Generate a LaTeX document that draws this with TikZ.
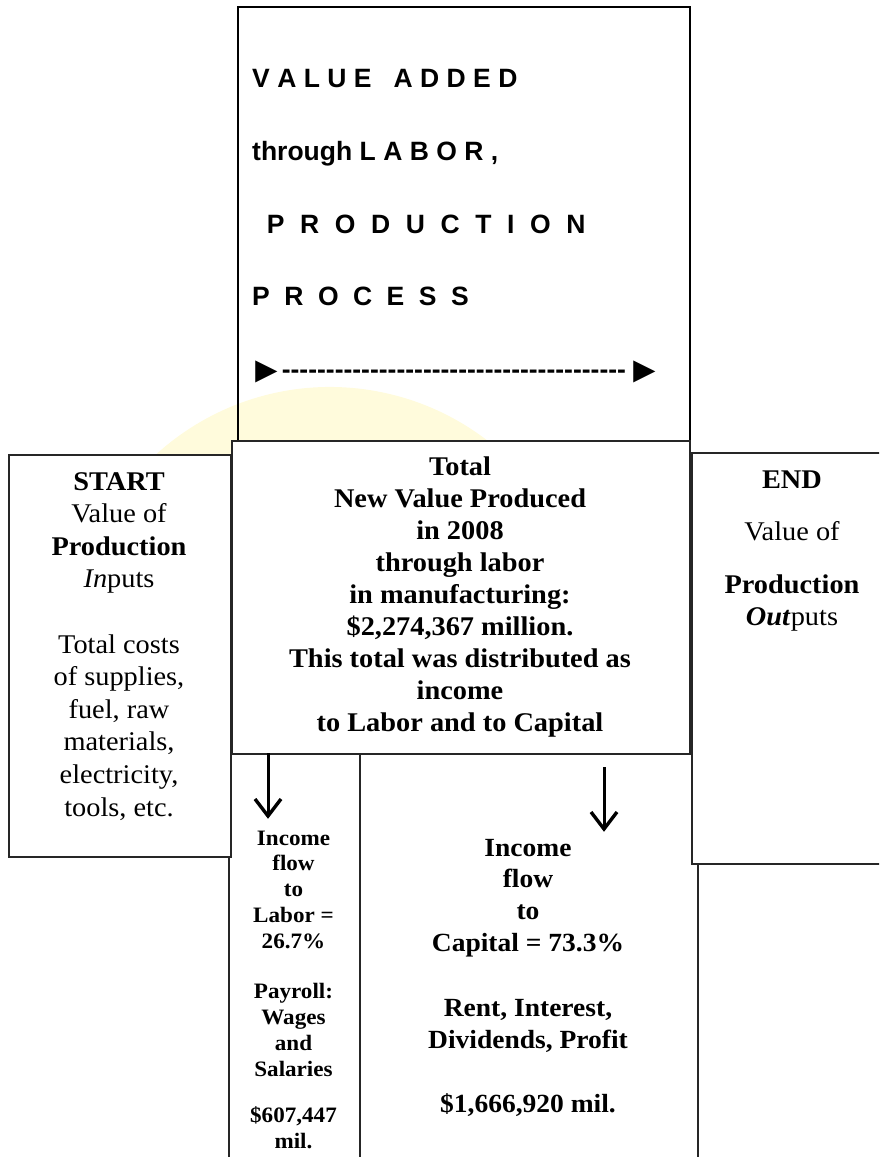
\documentclass[tikz,border=0pt]{standalone}
\usepackage{fontspec}
\usetikzlibrary{calc}
\newfontfamily\arialf{Liberation Sans}
\newfontfamily\pal{Liberation Serif}[FakeStretch=1.05]
\newcommand\hs[1]{\hspace*{#1pt}}
\definecolor{wm}{RGB}{255,251,220}
\begin{document}
\begin{tikzpicture}[x=1pt,y=-1pt,
  box/.style={draw=black!85, line width=1.6pt, fill=white, inner sep=0pt, anchor=north west},
  centxt/.style={font=\pal\bfseries\fontsize{27}{31}\selectfont, inner sep=0pt, anchor=base},
  sidetxt/.style={font=\pal\fontsize{27}{31}\selectfont, inner sep=0pt, anchor=base},
  labtxt/.style={font=\pal\bfseries\fontsize{22}{25}\selectfont, inner sep=0pt, anchor=base},
  captxt/.style={font=\pal\bfseries\fontsize{26.2}{31}\selectfont, inner sep=0pt, anchor=base},
  toptxt/.style={font=\arialf\bfseries\fontsize{26.5}{30}\selectfont, inner sep=0pt, anchor=base west},
  shaft/.style={line width=3pt},
  barb/.style={line width=3.4pt, line join=miter, line cap=butt}]
\useasboundingbox (0,0) rectangle (879,1157);
\clip (0,0) rectangle (879,1157);
% faint watermark
\draw[line width=60pt, wm] (330,645) ++(195:228) arc[start angle=195, end angle=345, radius=228];
% bottom boxes
\node[box, minimum width=131pt, minimum height=420pt] (labor) at (228,753) {};
\node[box, minimum width=338pt, minimum height=420pt] (capital) at (359,753) {};
% side boxes
\node[box, minimum width=222pt, minimum height=402pt] (start) at (8,454) {};
\node[box, minimum width=215pt, minimum height=411pt] (end) at (691,452) {};
% top box
\node[box, fill=none, draw=black, line width=2pt, minimum width=452pt, minimum height=434pt] (top) at (237,6) {};
% center box
\node[box, minimum width=458pt, minimum height=313pt] (center) at (231,440) {};
% top box text
\node[toptxt] (t1) at (252,87) {V\hs{7.4}A\hs{7.4}L\hs{7.4}U\hs{7.4}E\hs{22}A\hs{7.4}D\hs{7.4}D\hs{7.4}E\hs{7.4}D};
\node[toptxt] (t2) at (252,160) {through\hs{7.4}L\hs{7.4}A\hs{7.4}B\hs{7.4}O\hs{7.4}R\hs{7.4},};
\node[toptxt] (t3) at (252,233) {\hs{14.7}P\hs{15.6}R\hs{15.6}O\hs{15.6}D\hs{15.6}U\hs{15.6}C\hs{15.6}T\hs{15.6}I\hs{15.6}O\hs{15.6}N};
\node[toptxt] (t4) at (252,305) {P\hs{14.5}R\hs{14.5}O\hs{14.5}C\hs{14.5}E\hs{14.5}S\hs{14.5}S};
\node[toptxt] (t5) at (248,378) {\raisebox{-4pt}{\fontsize{37}{37}\selectfont ►}\hspace*{-3pt}---------------------------------------\hspace*{1pt}\raisebox{-4pt}{\fontsize{37}{37}\selectfont ►}};
% center text
\foreach \by/\tx [count=\i] in {475/Total, 507/New Value Produced, 539/in 2008, 571/through labor, 603/in manufacturing:, 635/{\$2,274,367 million.}, 667/This total was distributed as, 699/income, 731/to Labor and to Capital}
  \node[centxt] (c\i) at (460,\by) {\tx};
% start text
\foreach \by/\tx [count=\i] in {490/{\bfseries START}, 522.6/Value of, 555.2/{\bfseries Production}, 587.8/{{\itshape In\/}puts}, 653/Total costs, 685.6/{of supplies,}, 718.2/{fuel, raw}, 750.8/{materials,}, 783.4/{electricity,}, 816/{tools, etc.}}
  \node[sidetxt] (s\i) at (119,\by) {\tx};
% end text
\foreach \by/\tx [count=\i] in {488/{\bfseries END}, 540/Value of, 593/{\bfseries Production}, 625/{{\bfseries\itshape Out\/}puts}}
  \node[sidetxt] (e\i) at (792,\by) {\tx};
% labor text
\foreach \by/\tx [count=\i] in {845/Income, 870.5/flow, 896/to, 922/Labor =, 948/26.7\%, 998/Payroll:, 1024/Wages, 1050/and, 1076/Salaries, 1122/{\$607,447}, 1148/mil.}
  \node[labtxt] (l\i) at (293.5,\by) {\tx};
% capital text
\foreach \by/\tx [count=\i] in {856/Income, 887.5/flow, 919/to, 951/Capital = 73.3\%, 1016/{Rent, Interest,}, 1048/{Dividends, Profit}, 1112/{\$1,666,920 mil.}}
  \node[captxt] (k\i) at (528,\by) {\tx};
% arrows
\coordinate (la1) at (268,753);
\coordinate (la2) at (268,817);
\coordinate (ra1) at (604,767);
\coordinate (ra2) at (604,830);
\draw[shaft] (la1) -- ($(la2)+(0,-2)$);
\draw[barb] ($(la2)+(-13,-18)$) -- ($(la2)+(0,-1)$) -- ($(la2)+(13,-18)$);
\draw[shaft] (ra1) -- ($(ra2)+(0,-2)$);
\draw[barb] ($(ra2)+(-13,-18)$) -- ($(ra2)+(0,-1)$) -- ($(ra2)+(13,-18)$);
\end{tikzpicture}
\end{document}
